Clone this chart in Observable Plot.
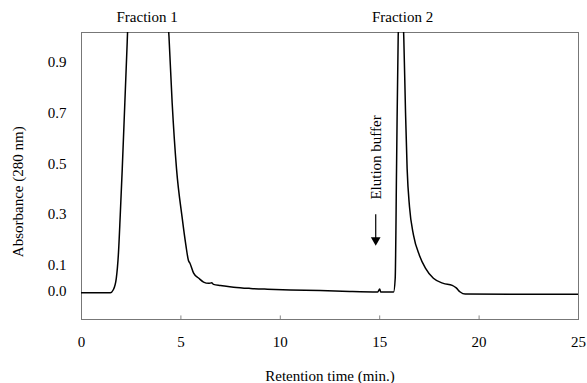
<!DOCTYPE html>
<html>
<head>
<meta charset="utf-8">
<script src="https://cdn.jsdelivr.net/npm/d3@7"></script>
<script src="https://cdn.jsdelivr.net/npm/@observablehq/plot@0.6"></script>
<style>
  html, body { margin: 0; padding: 0; background: #fff; }
  #chart svg { display: block; }
  #chart svg text { font-family: 'Liberation Serif', 'Times New Roman', serif; }
</style>
</head>
<body>
<div id="chart"></div>
<script>
// Retention time (min.)
const time = [0, 1.45, 1.6, 1.75, 1.86, 1.95, 2.05, 2.18, 2.3, 2.45, 3.3, 4.25, 4.4, 4.56, 4.78, 5.06, 5.25, 5.38, 5.45, 5.64, 5.9, 6.14, 6.4, 6.55, 6.64, 7.0, 7.65, 8.5, 9.35, 10.5, 12, 13.5, 14.9, 15.0, 15.05, 15.2, 15.7, 15.78, 15.85, 15.93, 16.07, 16.21, 16.3, 16.38, 16.5, 16.7, 17.0, 17.3, 17.7, 18.2, 18.65, 18.85, 19.05, 19.3, 22, 25];
// Absorbance (280 nm)
const absorbance = [-0.007, -0.007, 0.005, 0.05, 0.15, 0.3, 0.48, 0.74, 0.98, 1.3, 1.9, 1.2, 1.0, 0.74, 0.48, 0.29, 0.18, 0.12, 0.11, 0.07, 0.05, 0.035, 0.03, 0.032, 0.026, 0.022, 0.015, 0.01, 0.007, 0.004, 0.002, -0.002, -0.004, 0.008, -0.004, -0.004, -0.004, 0.05, 0.5, 1.0, 1.2, 1.0, 0.7, 0.48, 0.33, 0.22, 0.14, 0.09, 0.05, 0.03, 0.022, 0.012, -0.004, -0.012, -0.013, -0.013];

const xTicks = [0, 5, 10, 15, 20, 25];
const yTicks = [0.0, 0.1, 0.3, 0.5, 0.7, 0.9];
const innerTicks = [5, 10, 15, 20];

const fractionNames = ["Fraction 1", "Fraction 2"];
const fractionTimes = [3.3, 16.15];
const fractionLabelY = 1.075;

const elutionLabel = "Elution buffer";
const elutionTime = 14.8;

const xLabel = "Retention time (min.)";
const yLabel = "Absorbance (280 nm)";

const series = time.map((t, i) => ({t, a: absorbance[i]}));
const fractions = fractionNames.map((name, i) => ({name, t: fractionTimes[i]}));

const font = "'Liberation Serif', 'Times New Roman', serif";

const chart = Plot.plot({
  width: 587,
  height: 383,
  marginLeft: 81,
  marginRight: 9,
  marginTop: 32,
  marginBottom: 64,
  style: {fontFamily: font, fontSize: "15px", color: "#000", background: "#fff"},
  x: {domain: [0, 25]},
  y: {domain: [-0.112, 1.016]},
  marks: [
    Plot.frame({stroke: "#777", strokeWidth: 1}),
    Plot.ruleX(innerTicks, {x: d => d, y1: -0.112, y2: -0.098, stroke: "#888"}),
    Plot.axisX({ticks: xTicks, tickSize: 0, tickPadding: 17, label: null, tickFormat: d => String(d), fontSize: 15, fontFamily: font}),
    Plot.axisY({ticks: yTicks, tickSize: 0, tickPadding: 15, label: null, tickFormat: d3.format(".1f"), fontSize: 15, fontFamily: font}),
    Plot.line(series, {x: "t", y: "a", stroke: "#000", strokeWidth: 1.5, curve: "monotone-x", clip: true}),
    Plot.text(fractions, {x: "t", y: () => fractionLabelY, text: "name", fontSize: 15, fontFamily: font}),
    Plot.text([elutionLabel], {x: () => elutionTime, y: () => 0.525, text: d => d, rotate: -90, fontSize: 15, fontFamily: font}),
    Plot.ruleX([elutionTime], {x: d => d, y1: 0.30, y2: 0.205, stroke: "#000", strokeWidth: 1.2}),
    Plot.dot([elutionTime], {x: d => d, y: () => 0.2, symbol: "triangle", r: 3.6, fill: "#000", stroke: "none", rotate: 180}),
    Plot.text([xLabel], {x: () => 12.5, y: () => -0.336, text: d => d, fontSize: 15, fontFamily: font}),
    Plot.text([yLabel], {x: () => -3.2, y: () => 0.39, text: d => d, rotate: -90, fontSize: 15, fontFamily: font})
  ]
});

document.getElementById("chart").appendChild(chart);
</script>
</body>
</html>
